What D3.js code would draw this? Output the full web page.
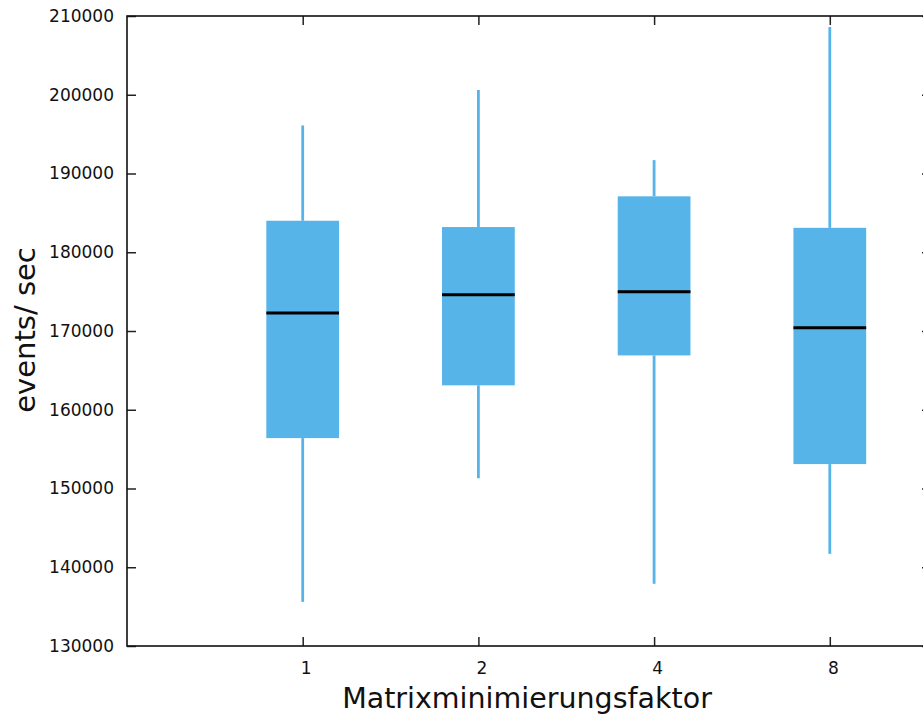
<!DOCTYPE html>
<html>
<head>
  <meta charset="utf-8">
  <script src="https://d3js.org/d3.v7.min.js"></script>
  <style>
    body { margin: 0; background: #fff; }
    text { font-family: "DejaVu Sans", sans-serif; }
  </style>
</head>
<body>
<div id="chart"></div>
<script>
// data
var categories = ["1", "2", "4", "8"];
var whiskerLow  = [135600, 151300, 137900, 141700];
var boxLow      = [156400, 163100, 166900, 153100];
var medians     = [172300, 174600, 175000, 170400];
var boxHigh     = [184000, 183200, 187100, 183100];
var whiskerHigh = [196100, 200600, 191700, 208600];
var yTicks = [130000, 140000, 150000, 160000, 170000, 180000, 190000, 200000, 210000];

var W = 923, H = 714;
var plotL = 127, plotT = 16, plotR = 931, plotB = 646;

var svg = d3.select("#chart").append("svg")
  .attr("width", W)
  .attr("height", H);

// x: categories at 1..4, plot spans 0 .. ~4.58
var x = d3.scaleLinear()
  .domain([0, 4.576])
  .range([plotL, plotR]);

var y = d3.scaleLinear()
  .domain([130000, 210000])
  .range([plotB, plotT]);

var boxes = categories.map(function(c, i) {
  return {cat: c, pos: i + 1, wl: whiskerLow[i], bl: boxLow[i], med: medians[i], bh: boxHigh[i], wh: whiskerHigh[i]};
});

var halfW = 0.207; // box half width in x units
var col = "#56b4e9";

// whiskers
svg.append("g").selectAll("line.wl")
  .data(boxes).enter().append("line")
    .attr("x1", function(d) { return x(d.pos); })
    .attr("x2", function(d) { return x(d.pos); })
    .attr("y1", function(d) { return y(d.wl); })
    .attr("y2", function(d) { return y(d.bl); })
    .attr("stroke", col).attr("stroke-width", 2.8);

svg.append("g").selectAll("line.wh")
  .data(boxes).enter().append("line")
    .attr("x1", function(d) { return x(d.pos); })
    .attr("x2", function(d) { return x(d.pos); })
    .attr("y1", function(d) { return y(d.wh); })
    .attr("y2", function(d) { return y(d.bh); })
    .attr("stroke", col).attr("stroke-width", 2.8);

// boxes
svg.append("g").selectAll("rect")
  .data(boxes).enter().append("rect")
    .attr("x", function(d) { return x(d.pos - halfW); })
    .attr("width", function(d) { return x(d.pos + halfW) - x(d.pos - halfW); })
    .attr("y", function(d) { return y(d.bh); })
    .attr("height", function(d) { return y(d.bl) - y(d.bh); })
    .attr("fill", col);

// medians
svg.append("g").selectAll("line.med")
  .data(boxes).enter().append("line")
    .attr("x1", function(d) { return x(d.pos - halfW); })
    .attr("x2", function(d) { return x(d.pos + halfW); })
    .attr("y1", function(d) { return y(d.med); })
    .attr("y2", function(d) { return y(d.med); })
    .attr("stroke", "#000").attr("stroke-width", 3);

// axes with inward ticks
var yAxis = svg.append("g")
  .attr("transform", "translate(" + plotL + ",0)")
  .call(d3.axisLeft(y).tickValues(yTicks).tickFormat(d3.format("d")).tickSize(-9).tickPadding(13));

var yAxisR = svg.append("g")
  .attr("transform", "translate(" + plotR + ",0)")
  .call(d3.axisRight(y).tickValues(yTicks).tickFormat("").tickSize(-9));

var xAxis = svg.append("g")
  .attr("transform", "translate(0," + plotB + ")")
  .call(d3.axisBottom(x).tickValues(boxes.map(function(d) { return d.pos; }))
    .tickFormat(function(v) { return categories[v - 1]; }).tickSize(-9).tickPadding(16));

var xAxisT = svg.append("g")
  .attr("transform", "translate(0," + plotT + ")")
  .call(d3.axisTop(x).tickValues(boxes.map(function(d) { return d.pos; })).tickFormat("").tickSize(-9));

[yAxis, yAxisR, xAxis, xAxisT].forEach(function(a) {
  a.select(".domain").remove();
  a.selectAll(".tick line").attr("stroke", "#222").attr("stroke-width", 1.5);
  a.selectAll(".tick text").attr("fill", "#111")
    .style("font-family", "DejaVu Sans, sans-serif").style("font-size", "17px");
});
xAxis.selectAll(".tick text").attr("dx", 3);

// frame
svg.append("rect")
  .attr("x", plotL).attr("y", plotT)
  .attr("width", plotR - plotL).attr("height", plotB - plotT)
  .attr("fill", "none").attr("stroke", "#111").attr("stroke-width", 1.6);

// labels
svg.append("text")
  .attr("x", 527).attr("y", 708)
  .attr("text-anchor", "middle")
  .style("font-size", "28.5px")
  .attr("fill", "#111")
  .text("Matrixminimierungsfaktor");

svg.append("text")
  .attr("transform", "translate(35,330) rotate(-90)")
  .attr("text-anchor", "middle")
  .style("font-size", "29px")
  .attr("fill", "#111")
  .text("events/ sec");
</script>
</body>
</html>
